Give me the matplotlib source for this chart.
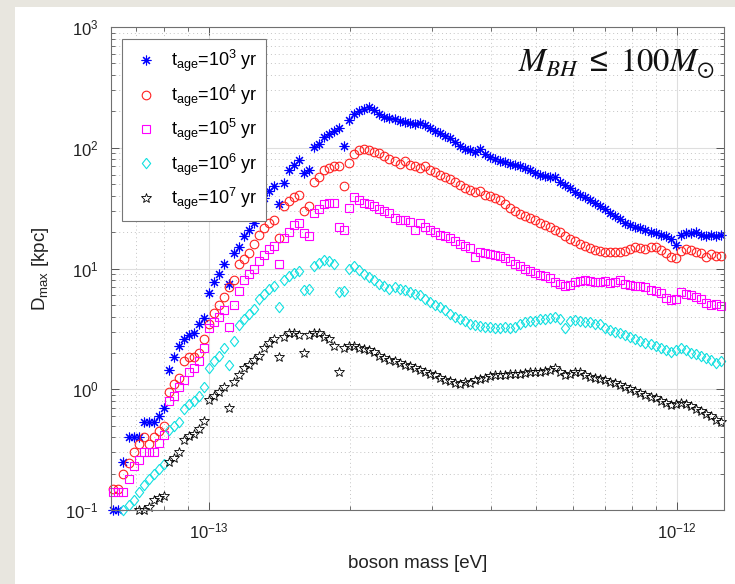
import numpy as np
import matplotlib
matplotlib.use('Agg')
import matplotlib.pyplot as plt
from matplotlib.ticker import FixedLocator, NullFormatter
from matplotlib.patches import Rectangle

nan = np.nan

# boson mass in units of 1e-13 eV
mass_e13 = [0.6250, 0.6406, 0.6566, 0.6731, 0.6899, 0.7071, 0.7248, 0.7429, 0.7615, 0.7805,
            0.8000, 0.8200, 0.8405, 0.8615, 0.8831, 0.9052, 0.9278, 0.9510, 0.9748, 0.9991,
            1.024, 1.050, 1.076, 1.103, 1.130, 1.159, 1.188, 1.217, 1.248, 1.279,
            1.311, 1.344, 1.377, 1.412, 1.447, 1.483, 1.520, 1.558, 1.597, 1.637,
            1.678, 1.720, 1.763, 1.807, 1.852, 1.899, 1.946, 1.995, 2.045, 2.096,
            2.148, 2.202, 2.257, 2.313, 2.371, 2.430, 2.491, 2.554, 2.617, 2.683,
            2.750, 2.819, 2.889, 2.961, 3.035, 3.111, 3.189, 3.269, 3.350, 3.434,
            3.520, 3.608, 3.698, 3.791, 3.885, 3.983, 4.082, 4.184, 4.289, 4.396,
            4.506, 4.619, 4.734, 4.852, 4.974, 5.098, 5.226, 5.356, 5.490, 5.627,
            5.768, 5.912, 6.060, 6.212, 6.367, 6.526, 6.689, 6.856, 7.028, 7.203,
            7.384, 7.568, 7.757, 7.951, 8.150, 8.354, 8.563, 8.777, 8.996, 9.221,
            9.452, 9.688, 9.930, 10.18, 10.43, 10.69, 10.96, 11.24, 11.52, 11.80,
            12.10, 12.40]

d_age1e3 = [0.1, 0.1, 0.25, 0.4, 0.4, 0.4, 0.54, 0.54, 0.54, 0.6,
            0.7, 1.44, 1.85, 2.3, 2.6, 2.8, 2.9, 3.5, 3.9, 6.3,
            7.8, 9.0, 11.0, 7.5, 13.5, 15, 18.5, 21, 24, 33,
            38, 44, 48, 34, 51, 66, 72, 79, 62, 66,
            102, 108, 123, 130, 138, 145, 103, 170, 190, 200,
            210, 217, 205, 190, 180, 175, 172, 168, 163, 160,
            158, 160, 155, 145, 138, 132, 125, 120, 112, 104,
            98, 95, 92, 97, 88, 84, 80, 78, 76, 74,
            72, 70, 68, 65, 62, 60, 58, 57, 57, 52,
            49, 46, 43, 41, 39, 37, 35, 33, 31, 29,
            27, 25.5, 24, 23, 22, 21.5, 21, 20, 19.5, 19,
            18.5, 17.5, 15.6, 19, 19.5, 19.5, 20, 19, 18.5, 19,
            18.5, 19]

d_age1e4 = [0.15, 0.15, 0.2, 0.245, 0.3, 0.35, 0.4, 0.35, 0.4, 0.45,
            0.5, 0.95, 1.1, 1.25, 1.7, 1.85, 1.85, 2.0, 2.6, 3.5,
            4.3, 5.0, 5.8, 7.0, 8.0, 11, 12, 13.5, 16, 19,
            21.5, 24, 25, 18, 33, 36, 39, 41, 30, 33,
            52, 57, 66, 68, 70, 71, 48, 75, 88, 96,
            98, 96, 93, 90, 86, 80, 78, 74, 78, 72,
            70, 68, 70, 66, 63, 60, 57, 55, 52, 49,
            46, 45, 43, 44, 41, 40, 38, 37, 34, 32,
            30, 28.5, 27, 26, 25, 24, 23, 22, 21, 20,
            18.5, 17.5, 17, 16, 15.3, 14.8, 14.3, 14.0, 13.8, 13.6,
            13.8, 13.6, 13.9, 14.5, 15, 14.8, 14.5, 15, 15.2, 14.2,
            13.5, 12.5, 12.2, 14.0, 14.5, 14.2, 13.8, 13.5, 12.5, 13.2,
            12.8, 12.6]

d_age1e5 = [0.14, 0.14, 0.14, 0.18, 0.23, 0.26, 0.30, 0.30, 0.30, 0.36,
            0.42, 0.80, 0.88, 1.05, 1.2, 1.4, 1.5, 1.7, 2.2, 3.2,
            3.6, 4.0, 4.5, 3.3, 5.0, 6.5, 8.1, 9.0, 10, 11.5,
            13, 14.5, 15.5, 11, 18, 20, 23, 24, 19.5, 18.5,
            29, 31, 34, 35, 35, 22, 21, 32, 39, 37,
            35, 34, 33, 31, 30, 29, 26, 25, 25, 24.5,
            21, 24, 22, 21, 20, 19, 18.5, 18, 17, 16,
            15.5, 14.8, 12.5, 13.8, 13.5, 13.2, 13, 12.6, 12.3, 11.5,
            11, 10.5, 10, 9.6, 9.2, 8.9, 8.6, 8.3, 7.8, 7.4,
            7.2, 7.3, 7.8, 7.9, 8.0, 7.9, 7.8, 7.7, 7.9, 7.6,
            7.8, 8.0, 7.5, 7.3, 7.2, 7.1, 7.0, 6.7, 6.5, 6.3,
            5.7, 5.5, 5.6, 6.4, 6.2, 6.0, 5.8, 5.6, 5.2, 5.0,
            5.1, 4.9]

d_age1e6 = [nan, nan, 0.10, 0.11, 0.12, 0.14, 0.16, 0.18, 0.20, 0.22,
            0.24, 0.46, 0.50, 0.54, 0.68, 0.75, 0.80, 0.88, 1.05, 1.5,
            1.7, 1.9, 2.2, 1.6, 2.5, 3.4, 3.8, 4.2, 4.6, 5.6,
            6.2, 6.8, 7.2, 4.8, 8.0, 8.6, 9.2, 9.5, 6.6, 6.8,
            10.5, 11.2, 11.8, 11.5, 11, 6.4, 6.5, 10, 10.5, 9.8,
            9.0, 8.5, 8.0, 7.5, 7.2, 6.8, 7.0, 6.8, 6.6, 6.4,
            6.2, 6.0, 5.6, 5.3, 5.0, 4.8, 4.5, 4.2, 4.0, 3.8,
            3.7, 3.5, 3.4, 3.35, 3.3, 3.25, 3.2, 3.2, 3.25, 3.2,
            3.3, 3.5, 3.6, 3.7, 3.7, 3.8, 3.8, 3.9, 4.0, 3.8,
            3.2, 3.7, 3.75, 3.7, 3.6, 3.6, 3.5, 3.5, 3.2, 3.1,
            3.0, 2.9, 2.8, 2.7, 2.6, 2.5, 2.4, 2.35, 2.3, 2.2,
            2.1, 2.05, 2.1, 2.2, 2.1, 2.0, 1.95, 1.9, 1.8, 1.75,
            1.65, 1.7]

d_age1e7 = [nan, nan, nan, nan, nan, 0.10, 0.10, 0.105, 0.12, 0.125,
            0.13, 0.25, 0.27, 0.30, 0.38, 0.41, 0.43, 0.47, 0.55, 0.82,
            0.88, 0.95, 1.05, 0.70, 1.15, 1.3, 1.5, 1.6, 1.75, 1.9,
            2.2, 2.4, 2.6, 1.85, 2.7, 2.9, 2.95, 2.8, 2.0, 2.8,
            2.9, 2.9, 2.7, 2.6, 2.3, 1.4, 2.2, 2.3, 2.3, 2.2,
            2.15, 2.1, 2.05, 1.9, 1.8, 1.75, 1.7, 1.65, 1.6, 1.55,
            1.5, 1.45, 1.4, 1.35, 1.3, 1.25, 1.2, 1.17, 1.12, 1.1,
            1.15, 1.12, 1.2, 1.22, 1.25, 1.28, 1.3, 1.32, 1.3, 1.33,
            1.35, 1.33, 1.36, 1.38, 1.38, 1.40, 1.42, 1.45, 1.5, 1.38,
            1.3, 1.35, 1.4, 1.38, 1.3, 1.27, 1.24, 1.22, 1.2, 1.15,
            1.12, 1.08, 1.04, 1.0, 0.97, 0.93, 0.9, 0.87, 0.84, 0.8,
            0.77, 0.74, 0.75, 0.77, 0.75, 0.72, 0.69, 0.66, 0.62, 0.6,
            0.56, 0.54]

labels = [r't$_{age}$=10$^{3}$ yr', r't$_{age}$=10$^{4}$ yr', r't$_{age}$=10$^{5}$ yr',
          r't$_{age}$=10$^{6}$ yr', r't$_{age}$=10$^{7}$ yr']
series = [d_age1e3, d_age1e4, d_age1e5, d_age1e6, d_age1e7]

x_major = [1e-13, 1e-12]
y_major = [1e-1, 1e0, 1e1, 1e2, 1e3]
x_lim = (6.175e-14, 1.26e-12)
y_lim = (0.1, 1000)

plt.rcParams['font.family'] = ['Liberation Sans', 'DejaVu Sans']
plt.rcParams['mathtext.default'] = 'regular'
plt.rcParams['axes.unicode_minus'] = False

diamond = [(0, 1), (0.8, 0), (0, -1), (-0.8, 0), (0, 1)]
styles = [
    dict(marker=(8, 2, 0), color='#0000ff', ms=7, mew=0.8, mfc='none'),
    dict(marker='o', color='#ff2020', ms=6.2, mew=0.8, mfc='none'),
    dict(marker='s', color='#ff00ff', ms=5.2, mew=0.8, mfc='none'),
    dict(marker=diamond, color='#10e0e0', ms=7.5, mew=0.8, mfc='none'),
    dict(marker='*', color='#000000', ms=7, mew=0.6, mfc='none'),
]

fig = plt.figure(figsize=(7.35, 5.84), dpi=100, facecolor='#e8e6df')
bg = Rectangle((15 / 735, 0), 1, 1 - 7 / 584, transform=fig.transFigure,
               facecolor='white', edgecolor='none', zorder=-10)
fig.add_artist(bg)
ax = fig.add_axes([111 / 735, 1 - 510 / 584, 613 / 735, 483 / 584])
ax.set_zorder(1)

x = np.array(mass_e13) * 1e-13
for y, lab, st in zip(series, labels, styles):
    ax.plot(x, np.array(y), ls='none', label=lab, clip_on=False, **st)

ax.set_xscale('log')
ax.set_yscale('log')
ax.set_xlim(*x_lim)
ax.set_ylim(*y_lim)


def minor_ticks(lo, hi):
    out = []
    for e in range(int(np.floor(np.log10(lo))) - 1, int(np.ceil(np.log10(hi))) + 1):
        for s in range(2, 10):
            v = s * 10.0 ** e
            if lo <= v <= hi:
                out.append(v)
    return out


ax.xaxis.set_major_locator(FixedLocator(x_major))
ax.yaxis.set_major_locator(FixedLocator(y_major))
ax.xaxis.set_minor_locator(FixedLocator(minor_ticks(*x_lim)))
ax.yaxis.set_minor_locator(FixedLocator(minor_ticks(*y_lim)))
ax.xaxis.set_minor_formatter(NullFormatter())
ax.yaxis.set_minor_formatter(NullFormatter())

ax.tick_params(which='both', direction='in', top=True, right=True, colors='#555555',
               labelcolor='#222222', labelsize=12)
ax.tick_params(which='major', length=6, width=0.7)
ax.tick_params(which='minor', length=3, width=0.6)
ax.tick_params(axis='y', which='major', pad=9)
ax.tick_params(axis='x', which='major', pad=8)

ax.set_axisbelow(True)
ax.grid(True, which='major', color='#dedede', ls='-', lw=0.8)
ax.grid(True, which='minor', color='#c4c4c4', ls=(0, (1, 3)), lw=0.7)
for s in ax.spines.values():
    s.set_color('#707070')
    s.set_linewidth(0.8)

ax.set_xlabel('boson mass [eV]', fontsize=13.5, color='#222222', labelpad=10)
ax.set_ylabel(r'D$_{max}$ [kpc]', fontsize=13.5, color='#222222', labelpad=10)

leg = ax.legend(loc='upper left', bbox_to_anchor=(0.018, 0.975), frameon=True, fancybox=False,
                edgecolor='#777777', framealpha=1, fontsize=13, borderaxespad=0,
                handlelength=1.6, handletextpad=0.6, labelspacing=0.45, borderpad=0.5,
                numpoints=1)
leg.get_frame().set_linewidth(0.8)

ax.text(0.985, 0.907, r'$\mathit{M}_{\mathit{BH}}\ \leq\ \mathrm{100}\mathit{M}_{\odot}$',
        transform=ax.transAxes, ha='right', va='baseline', fontsize=23.5,
        math_fontfamily='stix', color='#111111')

fig.savefig('out.png', dpi=100, facecolor=fig.get_facecolor())
